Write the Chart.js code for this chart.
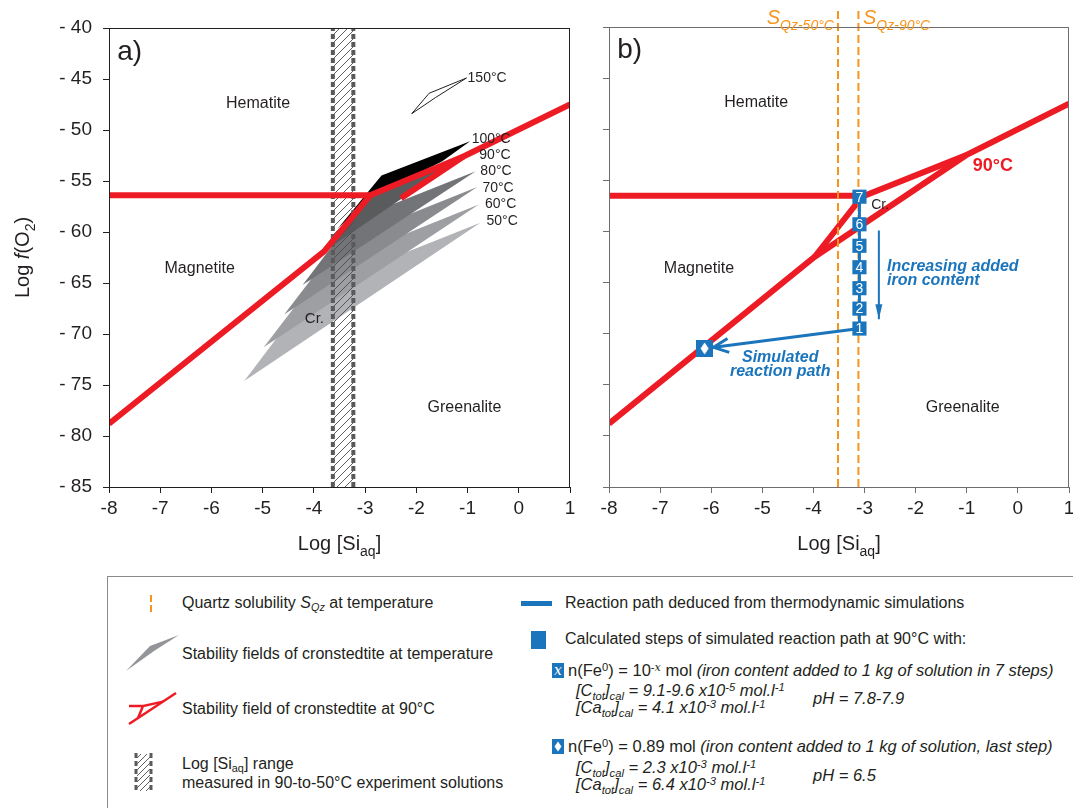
<!DOCTYPE html>
<html>
<head>
<meta charset="utf-8">
<title>Cronstedtite stability, log fO2 vs log [Si]</title>
<script src="https://cdn.jsdelivr.net/npm/chart.js@4.4.1/dist/chart.umd.min.js"></script>
<style>
  html, body { margin:0; padding:0; background:#fff; overflow:hidden; }
  #page { position:relative; width:1073px; height:808px; overflow:hidden; background:#fff;
          font-family:'Liberation Sans', Arial, Helvetica, sans-serif; color:#231f20; }
  #panelA { position:absolute; left:0; top:0; }
  #panelB { position:absolute; left:580px; top:0; }
  #key { position:absolute; left:107px; top:576px; width:1000px; height:260px;
         border:1px solid #8a8a8a; box-sizing:border-box; }
  #key svg { position:absolute; left:0; top:0; }
  .k { position:absolute; white-space:nowrap; font-size:16px; line-height:18px; }
  .k.s { font-size:16.5px; }
  .k sub, .k sup { font-size:68%; line-height:0; position:relative; vertical-align:baseline; }
  .k sub { top:0.32em; }
  .k sup { top:-0.45em; }
  .xv { font-family:'DejaVu Serif', serif; }
</style>
</head>
<body>
<div id="page">
  <canvas id="panelA" width="590" height="565"></canvas>
  <canvas id="panelB" width="510" height="565"></canvas>

  <div id="key">
    <svg width="1000" height="260">
      <defs>
        <pattern id="keyHatch" width="6" height="6" patternUnits="userSpaceOnUse">
          <path d="M0,6 L6,0 M-1,1 L1,-1 M5,7 L7,5" stroke="#4d4d4d" stroke-width="0.9"/>
        </pattern>
      </defs>
      <line x1="43" y1="18" x2="43" y2="36" stroke="#f7941d" stroke-width="2" stroke-dasharray="7 3"/>
      <polygon points="18,94 42,69 71,58 46,74" fill="#939598"/>
      <g stroke="#ed1c24" stroke-width="2.5" fill="none" stroke-linejoin="miter">
        <polyline points="21,147 68,116"/>
        <polyline points="30,141 35,129 55,124.6"/>
        <polyline points="21,129 35,129"/>
      </g>
      <rect x="29" y="177" width="13" height="37" fill="url(#keyHatch)"/>
      <line x1="28" y1="176" x2="28" y2="215" stroke="#5a5a5a" stroke-width="3" stroke-dasharray="5 3"/>
      <line x1="43" y1="176" x2="43" y2="215" stroke="#5a5a5a" stroke-width="3" stroke-dasharray="5 3"/>
      <rect x="413" y="24" width="31" height="5" fill="#1b75bc"/>
      <rect x="423" y="54" width="15" height="18" fill="#1b75bc"/>
      <rect x="444" y="86" width="12" height="15" fill="#1b75bc"/>
      <text x="450" y="98" fill="#fff" font-family="'DejaVu Serif', serif" font-style="italic" font-size="14" text-anchor="middle">x</text>
      <rect x="444" y="162" width="12" height="15" fill="#1b75bc"/>
      <polygon points="450,164.5 453.5,169.5 450,174.5 446.5,169.5" fill="#fff"/>
    </svg>

    <div class="k" style="left:74px;top:17px">Quartz solubility <i>S<sub>Qz</sub></i> at temperature</div>
    <div class="k" style="left:74px;top:68px">Stability fields of cronstedtite at temperature</div>
    <div class="k" style="left:74px;top:123px">Stability field of cronstedtite at 90°C</div>
    <div class="k" style="left:74px;top:178px">Log [Si<sub>aq</sub>] range</div>
    <div class="k" style="left:74px;top:197px">measured in 90-to-50°C experiment solutions</div>

    <div class="k" style="left:457px;top:17px">Reaction path deduced from thermodynamic simulations</div>
    <div class="k" style="left:457px;top:53px">Calculated steps of simulated reaction path at 90°C with:</div>
    <div class="k s" style="left:460px;top:84px">n(Fe<sup>0</sup>) = 10<sup>-<i class="xv">x</i></sup> mol <i>(iron content added to 1 kg of solution in 7 steps)</i></div>
    <div class="k s" style="left:468px;top:104px"><i>[C<sub>tot</sub>]<sub>cal</sub> = 9.1-9.6 x10<sup>-5</sup> mol.l<sup>-1</sup></i></div>
    <div class="k s" style="left:468px;top:121px"><i>[Ca<sub>tot</sub>]<sub>cal</sub> = 4.1 x10<sup>-3</sup> mol.l<sup>-1</sup></i></div>
    <div class="k s" style="left:705px;top:112px"><i>pH = 7.8-7.9</i></div>
    <div class="k s" style="left:460px;top:160px">n(Fe<sup>0</sup>) = 0.89 mol <i>(iron content added to 1 kg of solution, last step)</i></div>
    <div class="k s" style="left:468px;top:181px"><i>[C<sub>tot</sub>]<sub>cal</sub> = 2.3 x10<sup>-3</sup> mol.l<sup>-1</sup></i></div>
    <div class="k s" style="left:468px;top:198px"><i>[Ca<sub>tot</sub>]<sub>cal</sub> = 6.4 x10<sup>-3</sup> mol.l<sup>-1</sup></i></div>
    <div class="k s" style="left:705px;top:189px"><i>pH = 6.5</i></div>
  </div>
</div>

<script>
// ---------- axes ----------
const X_TICKS = [-8, -7, -6, -5, -4, -3, -2, -1, 0, 1];
const Y_TICKS = [-85, -80, -75, -70, -65, -60, -55, -50, -45, -40];

// ---------- (a) cronstedtite stability fields, vertices as [log Si, log fO2] ----------
const field50  = [[-5.36, -74.6], [-4.00, -65.6], [-0.75, -59.1]];
const field60  = [[-4.98, -71.3], [-3.76, -63.3], [-0.78, -57.3]];
const field70  = [[-4.58, -68.1], [-3.50, -61.0], [-0.81, -55.6]];
const field80  = [[-4.22, -65.2], [-3.27, -58.9], [-0.84, -54.05]];
const field90  = [[-3.80, -61.9], [-2.90, -56.4], [-1.08, -52.6]];
const field100 = [[-3.54, -59.7], [-2.68, -54.45], [-0.95, -51.1], [-1.50, -53.1], [-2.90, -56.6]];
const field150 = [[-2.09, -48.4], [-1.75, -46.4], [-1.02, -44.9], [-1.62, -46.8], [-2.09, -48.4]];
const fieldTemps = ['50°C', '60°C', '70°C', '80°C', '90°C', '100°C', '150°C'];

// (a) 90 °C phase boundaries
const redA_hem   = [[-8, -56.4], [-2.90, -56.4]];
const redA_main  = [[-8, -78.8], [-3.80, -61.9], [-2.90, -56.4], [-1.08, -52.6], [1, -47.5]];
const redA_lower = [[-2.30, -56.7], [-1.08, -52.6]];

// (a) measured log [Si] range in the 90-to-50 °C experiments
const siRange = [-3.63, -3.23];

// ---------- (b) 90 °C diagram and simulated reaction path ----------
const redB_hem   = [[-8, -56.5], [-3.05, -56.5]];
const redB_lower = [[-8, -78.8], [-3.98, -62.5], [-1.02, -52.56], [1, -47.5]];
const redB_upper = [[-3.98, -62.5], [-3.05, -56.6], [-1.02, -52.56]];

const quartzLogSi = [-3.52, -3.12];          // S_Qz at 50 °C and 90 °C
const quartzTemps = ['50°C', '90°C'];

const stepLogSi  = -3.10;
const stepLogFO2 = [-69.5, -67.55, -65.55, -63.5, -61.4, -59.3, -56.6];   // steps 1..7
const lastStep   = [-6.13, -71.45];                                       // n(Fe0) = 0.89 mol
const ironArrowX = -2.72;
const ironArrowY = [-59.9, -68.6];

// ---------- styles ----------
const INK = '#231f20', RED = '#ed1c24', BLUE = '#1b75bc', ORANGE = '#f7941d';
const FONT = "'Liberation Sans', Arial, Helvetica, sans-serif";
const fieldShades = ['#b1b3b6', '#9d9fa2', '#898b8e', '#737477', '#5a5b5d', '#000000'];

Chart.defaults.font.family = FONT;
Chart.defaults.color = INK;

const pts = arr => arr.map(([x, y]) => ({ x, y }));

// ---------- rich text helpers (italic *..*, subscript _{..}, superscript ^{..}) ----------
function parseRich(str) {
  const segs = []; let italic = false, buf = '', i = 0;
  const push = () => { if (buf) { segs.push({ t: buf, italic }); buf = ''; } };
  while (i < str.length) {
    const ch = str[i];
    if (ch === '*') { push(); italic = !italic; i++; continue; }
    if ((ch === '_' || ch === '^') && str[i + 1] === '{') {
      push();
      const end = str.indexOf('}', i);
      segs.push({ t: str.slice(i + 2, end), italic, sub: ch === '_', sup: ch === '^' });
      i = end + 1; continue;
    }
    buf += ch; i++;
  }
  push();
  return segs;
}

function drawRich(ctx, text, x, y, o) {
  const base = o.size || 16;
  const segs = parseRich(text);
  const fontOf = s => `${(s.italic || o.italic) ? 'italic ' : ''}${o.bold ? 'bold ' : ''}${(s.sub || s.sup) ? base * 0.7 : base}px ${FONT}`;
  const widths = segs.map(s => { ctx.font = fontOf(s); return ctx.measureText(s.t).width; });
  const total = widths.reduce((a, b) => a + b, 0);
  let cx = o.align === 'left' ? x : o.align === 'right' ? x - total : x - total / 2;
  ctx.save();
  ctx.fillStyle = o.color || INK;
  ctx.textBaseline = 'alphabetic';
  ctx.textAlign = 'left';
  const baseline = y + base * 0.36;
  segs.forEach((s, i) => {
    ctx.font = fontOf(s);
    const dy = s.sub ? base * 0.3 : s.sup ? -base * 0.4 : 0;
    ctx.fillText(s.t, cx, baseline + dy);
    cx += widths[i];
  });
  ctx.restore();
}

function drawArrowHead(ctx, xs, ys, a) {
  const fx = xs.getPixelForValue(a.from[0]), fy = ys.getPixelForValue(a.from[1]);
  const tx = xs.getPixelForValue(a.to[0]),   ty = ys.getPixelForValue(a.to[1]);
  const ang = Math.atan2(ty - fy, tx - fx);
  ctx.save();
  ctx.translate(tx - Math.cos(ang) * a.inset, ty - Math.sin(ang) * a.inset);
  ctx.rotate(ang);
  ctx.beginPath();
  ctx.moveTo(-a.len, -a.half); ctx.lineTo(0, 0); ctx.lineTo(-a.len, a.half);
  if (a.open) {
    ctx.strokeStyle = a.color; ctx.lineWidth = 3; ctx.lineJoin = 'miter'; ctx.stroke();
  } else {
    ctx.closePath(); ctx.fillStyle = a.color; ctx.fill();
  }
  ctx.restore();
}

// frame, arrow heads, step numbers, in-plot labels and axis titles
function overlay(cfg) {
  return {
    id: 'overlay',
    afterDatasetsDraw(chart) {
      const { ctx, chartArea: a, scales: { x, y } } = chart;
      ctx.save();
      ctx.strokeStyle = cfg.frame; ctx.lineWidth = 1;
      ctx.strokeRect(Math.round(a.left) + 0.5, Math.round(a.top) + 0.5,
                     Math.round(a.right - a.left) - 1, Math.round(a.bottom - a.top));
      ctx.restore();
      (cfg.arrows || []).forEach(ar => drawArrowHead(ctx, x, y, ar));
      if (cfg.stepsDataset != null) {
        const meta = chart.getDatasetMeta(cfg.stepsDataset);
        ctx.save();
        ctx.fillStyle = '#fff'; ctx.font = `14px ${FONT}`;
        ctx.textAlign = 'center'; ctx.textBaseline = 'middle';
        meta.data.forEach((p, i) => ctx.fillText(String(i + 1), p.x, p.y + 1));
        ctx.restore();
      }
      cfg.labels.forEach(l => drawRich(ctx, l.text, x.getPixelForValue(l.at[0]), y.getPixelForValue(l.at[1]), l));
      drawRich(ctx, 'Log [Si_{aq}]', (a.left + a.right) / 2, a.bottom + 56, { size: 20 });
      if (cfg.yTitle) {
        ctx.save();
        ctx.translate(a.left - 87, (a.top + a.bottom) / 2);
        ctx.rotate(-Math.PI / 2);
        drawRich(ctx, cfg.yTitle, 0, 0, { size: 20 });
        ctx.restore();
      }
    }
  };
}

function scales(frame, showYLabels, yWidth) {
  return {
    x: {
      type: 'linear', min: -8, max: 1,
      afterBuildTicks: s => { s.ticks = X_TICKS.map(v => ({ value: v })); },
      ticks: { font: { size: 19 }, color: INK, padding: 4, maxRotation: 0, callback: v => String(v) },
      grid: { drawOnChartArea: false, drawTicks: true, tickLength: 6, color: frame },
      border: { color: frame, width: 1 },
      afterFit: s => { s.height = 78; }
    },
    y: {
      type: 'linear', min: -85, max: -40,
      afterBuildTicks: s => { s.ticks = Y_TICKS.map(v => ({ value: v })); },
      ticks: { display: showYLabels, font: { size: 19 }, color: INK, padding: 11,
               callback: v => '- ' + Math.abs(v) },
      grid: { drawOnChartArea: false, drawTicks: true, tickLength: 6, color: frame },
      border: { color: frame, width: 1 },
      afterFit: s => { s.width = yWidth; }
    }
  };
}

function lineSet(arr, color, width, extra) {
  return Object.assign({ data: pts(arr), showLine: true, borderColor: color, borderWidth: width,
    pointRadius: 0, fill: false, borderJoinStyle: 'miter', borderCapStyle: 'butt' }, extra || {});
}
function shapeSet(arr, color) {
  return { data: pts(arr), showLine: true, borderColor: 'rgba(0,0,0,0)', borderWidth: 0,
    pointRadius: 0, fill: 'shape', backgroundColor: color };
}
// first dataset in the list is painted first (bottom)
function stacked(list) {
  return list.map((d, i) => Object.assign(d, { order: list.length - i }));
}

const baseOptions = (padding, sc) => ({
  responsive: false, animation: false, events: [],
  layout: { padding },
  plugins: { legend: { display: false }, tooltip: { enabled: false } },
  scales: sc
});

// ---------- panel (a) ----------
const ctxA = document.getElementById('panelA').getContext('2d');
const tile = document.createElement('canvas');
tile.width = 8; tile.height = 8;
(() => {
  const g = tile.getContext('2d');
  g.strokeStyle = '#4d4d4d'; g.lineWidth = 0.9;
  g.beginPath();
  g.moveTo(0, 8); g.lineTo(8, 0);
  g.moveTo(-1, 1); g.lineTo(1, -1);
  g.moveTo(7, 9); g.lineTo(9, 7);
  g.stroke();
})();
const hatch = ctxA.createPattern(tile, 'repeat');

const fields = [field50, field60, field70, field80, field90, field100];
const band = [[siRange[0], -85], [siRange[0], -40], [siRange[1], -40], [siRange[1], -85]];

const datasetsA = stacked([
  ...fields.map((f, i) => shapeSet(f, fieldShades[i])),
  lineSet(field150, INK, 1),
  shapeSet(band, hatch),
  ...siRange.map(v => lineSet([[v, -85], [v, -40]], '#5a5a5a', 4, { borderDash: [5, 3] })),
  lineSet(redA_hem, RED, 6),
  lineSet(redA_main, RED, 6),
  lineSet(redA_lower, RED, 6)
]);

const tempLabelAt = [[-0.63, -58.8], [-0.66, -57.2], [-0.71, -55.55], [-0.75, -53.9], [-0.77, -52.3], [-0.92, -50.8], [-1.0, -44.8]];
const labelsA = [
  { text: 'a)', at: [-7.84, -42.1], size: 28, align: 'left' },
  { text: 'Hematite', at: [-5.09, -47.3], size: 16 },
  { text: 'Magnetite', at: [-6.23, -63.5], size: 16 },
  { text: 'Greenalite', at: [-1.06, -77.1], size: 16 },
  { text: 'Cr.', at: [-3.99, -68.4], size: 15 },
  ...fieldTemps.map((t, i) => ({ text: t, at: tempLabelAt[i], size: 14, align: 'left' }))
];

new Chart(ctxA, {
  type: 'scatter',
  data: { datasets: datasetsA },
  options: baseOptions({ left: 0, top: 28, right: 20, bottom: 0 }, scales(INK, true, 109)),
  plugins: [overlay({ frame: INK, labels: labelsA, yTitle: 'Log *f*(O_{2})' })]
});

// ---------- panel (b) ----------
const ctxB = document.getElementById('panelB').getContext('2d');
const glyph = document.createElement('canvas');
glyph.width = 17; glyph.height = 17;
(() => {
  const g = glyph.getContext('2d');
  g.fillStyle = BLUE; g.fillRect(0, 0, 17, 17);
  g.fillStyle = '#fff';
  g.beginPath(); g.moveTo(8.5, 2.5); g.lineTo(12.5, 8.5); g.lineTo(8.5, 14.5); g.lineTo(4.5, 8.5);
  g.closePath(); g.fill();
})();

const stepPoints = stepLogFO2.map(v => [stepLogSi, v]);
const topClip = { left: 0, right: 0, bottom: 0, top: false };

const datasetsB = stacked([
  lineSet(redB_hem, RED, 6),
  lineSet(redB_lower, RED, 6),
  lineSet(redB_upper, RED, 6),
  ...quartzLogSi.map(v => lineSet([[v, -85], [v, -38.4]], ORANGE, 2, { borderDash: [8, 4], clip: topClip })),
  lineSet([stepPoints[0], lastStep], BLUE, 3),
  lineSet([[ironArrowX, ironArrowY[0]], [ironArrowX, ironArrowY[1]]], BLUE, 2),
  lineSet(stepPoints, BLUE, 3, { pointRadius: 10, pointStyle: 'rect', pointBackgroundColor: BLUE, pointBorderWidth: 0 }),
  lineSet([lastStep], BLUE, 0, { showLine: false, pointRadius: 9, pointStyle: glyph })
]);
const stepsIndex = datasetsB.length - 2;

const labelsB = [
  { text: 'b)', at: [-7.84, -42.0], size: 28, align: 'left' },
  { text: 'Hematite', at: [-5.12, -47.3], size: 16 },
  { text: 'Magnetite', at: [-6.24, -63.5], size: 16 },
  { text: 'Greenalite', at: [-1.08, -77.1], size: 16 },
  { text: 'Cr.', at: [-2.87, -57.3], size: 14, align: 'left' },
  { text: '90°C', at: [-0.49, -53.5], size: 18, bold: true, color: RED },
  { text: 'Increasing added', at: [-2.56, -63.3], size: 16, bold: true, italic: true, color: BLUE, align: 'left' },
  { text: 'iron content', at: [-2.56, -64.65], size: 16, bold: true, italic: true, color: BLUE, align: 'left' },
  { text: 'Simulated', at: [-4.65, -72.2], size: 16, bold: true, italic: true, color: BLUE },
  { text: 'reaction path', at: [-4.65, -73.6], size: 16, bold: true, italic: true, color: BLUE },
  { text: '*S_{Qz-' + quartzTemps[0] + '}*', at: [quartzLogSi[0] - 0.08, -39.0], size: 20, color: ORANGE, align: 'right' },
  { text: '*S_{Qz-' + quartzTemps[1] + '}*', at: [quartzLogSi[1] + 0.09, -39.0], size: 20, color: ORANGE, align: 'left' }
];

const arrowsB = [
  { from: stepPoints[0], to: lastStep, inset: 9, len: 15, half: 7, open: true, color: BLUE },
  { from: [ironArrowX, ironArrowY[0]], to: [ironArrowX, ironArrowY[1]], inset: 0, len: 15, half: 3.5, open: false, color: BLUE }
];

new Chart(ctxB, {
  type: 'scatter',
  data: { datasets: datasetsB },
  options: baseOptions({ left: 0, top: 27, right: 21, bottom: 0 }, scales('#6d6e71', false, 29)),
  plugins: [overlay({ frame: '#6d6e71', labels: labelsB, arrows: arrowsB, stepsDataset: stepsIndex })]
});
</script>
</body>
</html>
